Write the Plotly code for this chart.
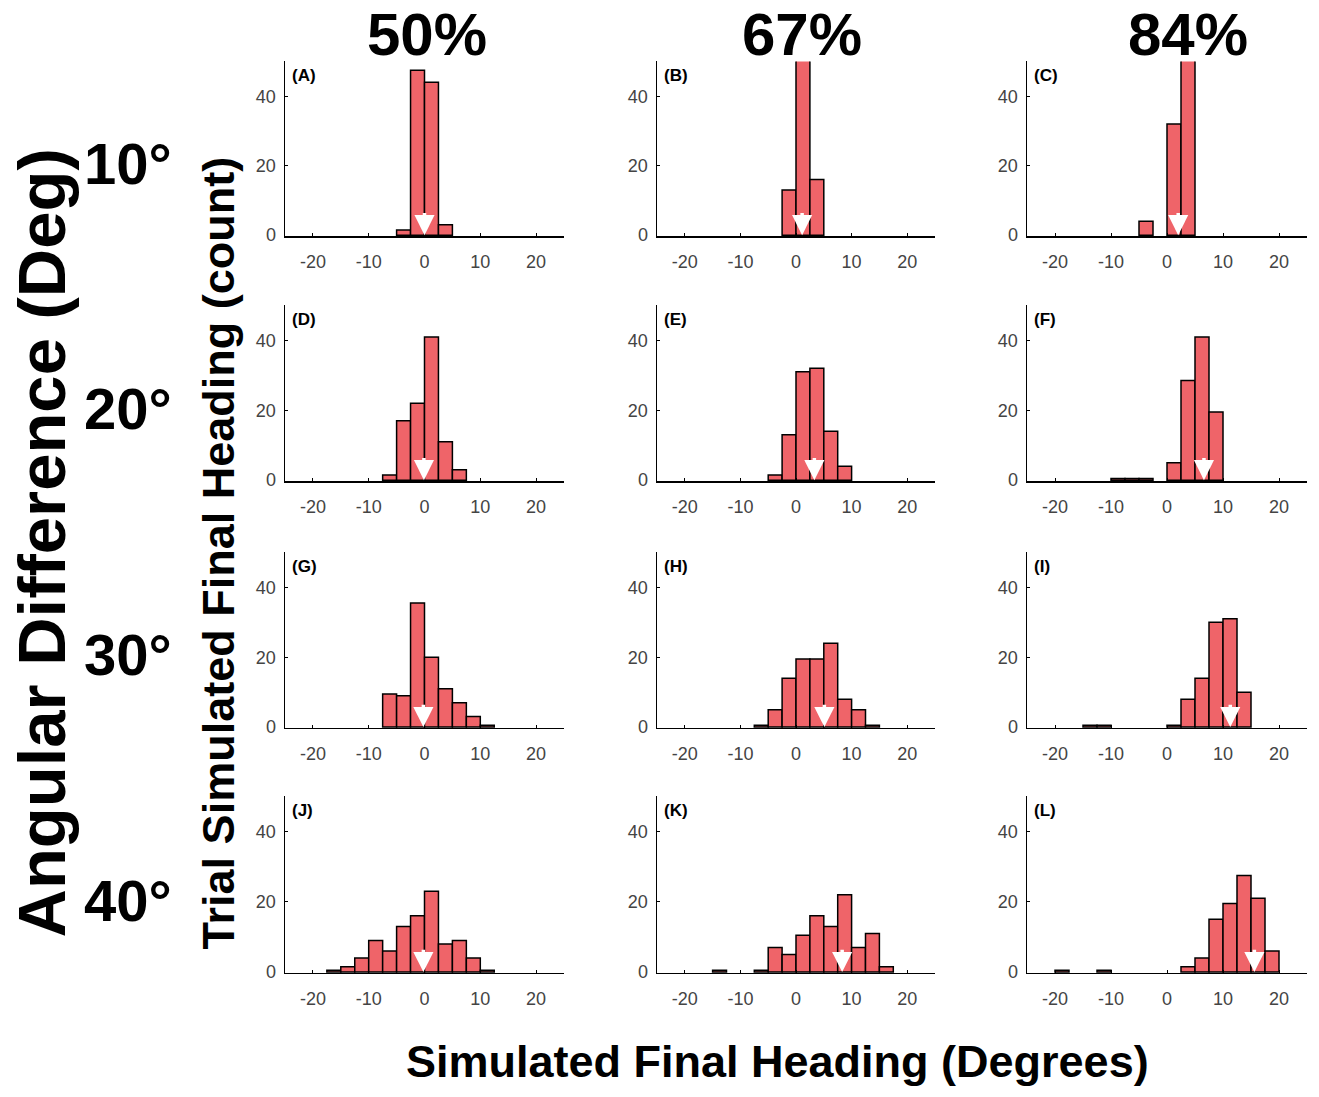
import plotly.graph_objects as go

# ---------------- data ----------------
bin_left = [-25, -22.5, -20, -17.5, -15, -12.5, -10, -7.5, -5, -2.5,
            0, 2.5, 5, 7.5, 10, 12.5, 15, 17.5, 20, 22.5]
bin_width = 2.5

panel_labels = ["(A)", "(B)", "(C)", "(D)", "(E)", "(F)",
                "(G)", "(H)", "(I)", "(J)", "(K)", "(L)"]
col_titles = ["50%", "67%", "84%"]
row_titles = ["10°", "20°", "30°", "40°"]

#            -25 -22.5 -20 -17.5 -15 -12.5 -10 -7.5  -5  -2.5   0   2.5   5   7.5  10  12.5  15  17.5  20 22.5
counts_A = [0, 0, 0, 0, 0, 0, 0, 0, 1.5, 47.5, 44, 3, 0, 0, 0, 0, 0, 0, 0, 0]
counts_B = [0, 0, 0, 0, 0, 0, 0, 0, 0, 13, 71, 16, 0, 0, 0, 0, 0, 0, 0, 0]
counts_C = [0, 0, 0, 0, 0, 0, 0, 0, 4, 0, 32, 64, 0, 0, 0, 0, 0, 0, 0, 0]
counts_D = [0, 0, 0, 0, 0, 0, 0, 1.5, 17, 22, 41, 11, 3, 0, 0, 0, 0, 0, 0, 0]
counts_E = [0, 0, 0, 0, 0, 0, 0, 0, 1.5, 13, 31, 32, 14, 4, 0, 0, 0, 0, 0, 0]
counts_F = [0, 0, 0, 0, 0, 0, 0.5, 0.5, 0.5, 0, 5, 28.5, 41, 19.5, 0, 0, 0, 0, 0, 0]
counts_G = [0, 0, 0, 0, 0, 0, 0, 9.5, 9, 35.5, 20, 11, 7, 3, 0.5, 0, 0, 0, 0, 0]
counts_H = [0, 0, 0, 0, 0, 0, 0, 0.5, 5, 14, 19.5, 19.5, 24, 8, 5, 0.5, 0, 0, 0, 0]
counts_I = [0, 0, 0, 0, 0.5, 0.5, 0, 0, 0, 0, 0.5, 8, 14, 30, 31, 10, 0, 0, 0, 0]
counts_J = [0, 0, 0, 0.5, 1.5, 4, 9, 6, 13, 16, 23, 8, 9, 4, 0.5, 0, 0, 0, 0, 0]
counts_K = [0, 0, 0, 0, 0.5, 0, 0, 0.5, 7, 5, 10.5, 16, 13, 22, 7, 11, 1.5, 0, 0, 0]
counts_L = [0, 0, 0.5, 0, 0, 0.5, 0, 0, 0, 0, 0, 1.5, 4, 15, 19.5, 27.5, 21, 6, 0, 0]

all_counts = [counts_A, counts_B, counts_C, counts_D, counts_E, counts_F,
              counts_G, counts_H, counts_I, counts_J, counts_K, counts_L]

# mean heading marked by white arrows
mean_heading = [0.0, 1.1, 2.0, -0.1, 3.3, 6.6, -0.2, 5.1, 11.3, -0.2, 8.3, 15.6]

x_ticks = [-20, -10, 0, 10, 20]
x_tick_text = ["-20", "-10", "0", "10", "20"]
y_ticks = [0, 20, 40]

# ---------------- layout geometry (pixels) ----------------
W, H = 1319, 1097
col_px = [(285, 564), (657, 935), (1027, 1307)]
row_px = [(62, 238), (308, 485), (557, 734), (803, 981)]

FONT = "Liberation Sans, Arial, Helvetica, sans-serif"
BAR_COLOR = "#EF6469"

fig = go.Figure()
layout = dict(
    width=W, height=H,
    margin=dict(l=0, r=0, t=0, b=0),
    paper_bgcolor="white", plot_bgcolor="white",
    showlegend=False,
    font=dict(family=FONT),
)
annotations = []

for i, counts in enumerate(all_counts):
    r, c = divmod(i, 3)
    n = i + 1
    xa = "x" if n == 1 else f"x{n}"
    ya = "y" if n == 1 else f"y{n}"
    xs = [b + bin_width / 2 for b, v in zip(bin_left, counts) if v > 0]
    ys = [v for v in counts if v > 0]
    fig.add_trace(go.Bar(
        x=xs, y=ys, width=bin_width,
        marker=dict(color=BAR_COLOR, line=dict(color="black", width=1.5)),
        xaxis=xa, yaxis=ya, hoverinfo="skip",
    ))
    x0, x1 = col_px[c]
    y0, y1 = row_px[r]
    axis_common = dict(
        showgrid=False, zeroline=False, showline=True, linecolor="black",
        linewidth=1.5, ticks="inside", ticklen=3, tickcolor="black",
        tickfont=dict(size=18, color="#444444", family=FONT),
    )
    layout["xaxis" if n == 1 else f"xaxis{n}"] = dict(
        axis_common, domain=[x0 / W, x1 / W], anchor=ya,
        range=[-25, 25], tickvals=x_ticks, ticktext=x_tick_text,
        ticklabelstandoff=9,
    )
    layout["yaxis" if n == 1 else f"yaxis{n}"] = dict(
        axis_common, domain=[1 - y1 / H, 1 - y0 / H], anchor=xa,
        range=[-0.25, 50], tickvals=y_ticks, ticklabelstandoff=4,
    )
    # panel label
    annotations.append(dict(
        text=f"<b>{panel_labels[i]}</b>", xref=f"{xa} domain", yref=f"{ya} domain",
        x=0.018, y=0.985, xanchor="left", yanchor="top", showarrow=False,
        font=dict(size=17, color="black", family=FONT),
    ))
    # white arrow at mean heading
    m = mean_heading[i]
    annotations.append(dict(
        x=m, y=0, ax=m, ay=6.8, xref=xa, yref=ya, axref=xa, ayref=ya,
        text="", showarrow=True, arrowhead=2, arrowsize=1.15, arrowwidth=3.5,
        arrowcolor="white", standoff=0,
    ))

# column titles
col_title_x = [427, 802, 1188]
for t, px in zip(col_titles, col_title_x):
    annotations.append(dict(
        text=f"<b>{t}</b>", xref="paper", yref="paper",
        x=px / W, y=1 - 35 / H, xanchor="center", yanchor="middle",
        showarrow=False, font=dict(size=60, color="black", family=FONT),
    ))

# row titles
row_title_y = [165, 412, 660, 908]
for t, py in zip(row_titles, row_title_y):
    annotations.append(dict(
        text=f"<b>{t}</b>", xref="paper", yref="paper",
        x=128 / W, y=1 - py / H, xanchor="center", yanchor="middle",
        showarrow=False, font=dict(size=58, color="black", family=FONT),
    ))

annotations.append(dict(
    text="<b>Angular Difference (Deg)</b>", xref="paper", yref="paper",
    x=42 / W, y=1 - 548 / H, xanchor="center", yanchor="middle", textangle=-90,
    showarrow=False, font=dict(size=67, color="black", family=FONT),
))
annotations.append(dict(
    text="<b>Trial Simulated Final Heading (count)</b>", xref="paper", yref="paper",
    x=218 / W, y=1 - 557 / H, xanchor="center", yanchor="middle", textangle=-90,
    showarrow=False, font=dict(size=45, color="black", family=FONT),
))
annotations.append(dict(
    text="<b>Simulated Final Heading (Degrees)</b>", xref="paper", yref="paper",
    x=777 / W, y=1 - 1070 / H, xanchor="center", yanchor="middle",
    showarrow=False, font=dict(size=45, color="black", family=FONT),
))

layout["annotations"] = annotations
layout["bargap"] = 0
fig.update_layout(**layout)
fig.write_html(
    "out.html",
    config={"displayModeBar": False, "staticPlot": True},
    post_script="document.body.style.margin='0px';document.body.style.overflow='hidden';",
)
